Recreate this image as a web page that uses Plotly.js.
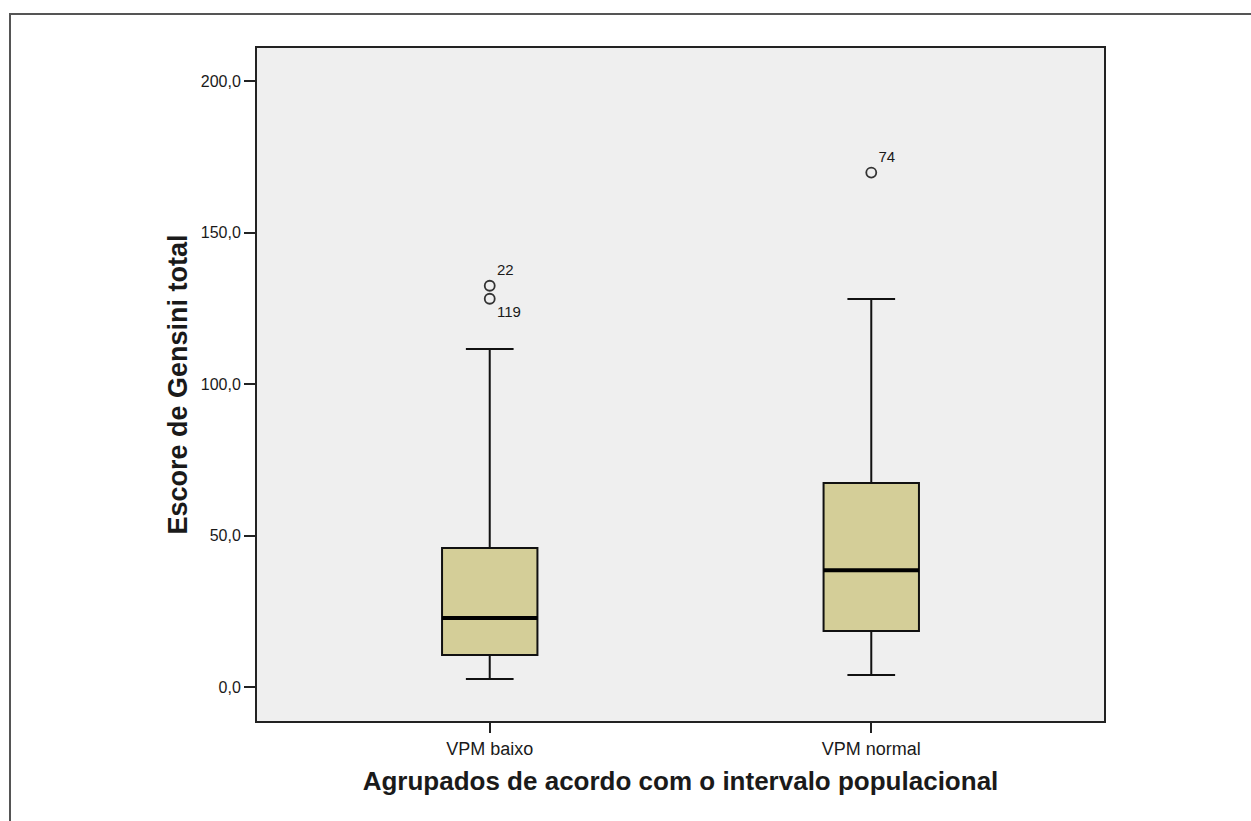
<!DOCTYPE html>
<html>
<head>
<meta charset="utf-8">
<script src="https://cdn.plot.ly/plotly-3.0.1.min.js"></script>
<style>
  html, body { margin: 0; padding: 0; background: #ffffff; overflow: hidden; }
  #chart { width: 1251px; height: 821px; }
  #frame { position: absolute; left: 9px; top: 13px; width: 1400px; height: 1000px;
           border-left: 2px solid #555; border-top: 2px solid #555; pointer-events: none; }
</style>
</head>
<body>
<div id="chart"></div>
<div id="frame"></div>
<script>
const categories = ['VPM baixo', 'VPM normal'];
const q1 = [10.7, 18.6];
const median = [22.9, 38.7];
const q3 = [46.0, 67.4];
const lowerfence = [2.8, 4.1];
const upperfence = [111.6, 128.1];

const outlierGroup = [0, 0, 1];
const outlierValues = [132.5, 128.2, 169.8];
const outlierIds = ['22', '119', '74'];
const outlierLabelPos = ['top right', 'bottom right', 'top right'];

const yTicks = [0, 50, 100, 150, 200];

const boxWidth = 0.25;
const fill = 'rgb(212,206,152)';

const traces = [];
categories.forEach((c, i) => {
  traces.push({
    type: 'box',
    x: [i],
    q1: [q1[i]], median: [median[i]], q3: [q3[i]],
    lowerfence: [lowerfence[i]], upperfence: [upperfence[i]],
    width: boxWidth,
    whiskerwidth: 0.5,
    fillcolor: fill,
    line: { color: '#111', width: 2 },
    boxpoints: false,
    hoverinfo: 'skip',
    showlegend: false
  });
  traces.push({
    type: 'scatter', mode: 'lines',
    x: [i - boxWidth / 2, i + boxWidth / 2],
    y: [median[i], median[i]],
    line: { color: '#000', width: 4 },
    hoverinfo: 'skip', showlegend: false
  });
});

traces.push({
  type: 'scatter', mode: 'markers+text',
  x: outlierGroup, y: outlierValues,
  text: outlierIds,
  textposition: outlierLabelPos,
  textfont: { family: 'Liberation Sans, Arial, sans-serif', size: 15, color: '#1a1a1a' },
  marker: { symbol: 'circle-open', size: 10, color: '#333', line: { width: 1.8, color: '#333' } },
  hoverinfo: 'skip', showlegend: false, cliponaxis: false
});

const layout = {
  width: 1251, height: 821,
  margin: { l: 257, r: 147, t: 48, b: 100 },
  paper_bgcolor: 'rgba(0,0,0,0)',
  plot_bgcolor: '#efefef',
  separators: ',.',
  showlegend: false,
  font: { family: 'Liberation Sans, Arial, sans-serif', color: '#1a1a1a' },
  xaxis: {
    range: [-0.61, 1.61],
    tickvals: [0, 1],
    ticktext: categories,
    tickfont: { size: 18, color: '#1a1a1a' },
    ticks: 'outside', ticklen: 10, tickwidth: 2, tickcolor: '#222',
    showline: true, mirror: true, linecolor: '#222', linewidth: 2,
    showgrid: false, zeroline: false,
    title: { text: '<b>Agrupados de acordo com o intervalo populacional</b>',
             font: { size: 26, color: '#1a1a1a' }, standoff: 14 }
  },
  yaxis: {
    range: [-11.05, 210.9],
    tickvals: yTicks,
    tickformat: '.1f',
    tickfont: { size: 16, color: '#1a1a1a' },
    ticks: 'outside', ticklen: 11, tickwidth: 2, tickcolor: '#222',
    showline: true, mirror: true, linecolor: '#222', linewidth: 2,
    showgrid: false, zeroline: false,
    title: { text: '<b>Escore de Gensini total</b>',
             font: { size: 27, color: '#1a1a1a' }, standoff: 5 }
  }
};

Plotly.newPlot('chart', traces, layout, { displayModeBar: false, staticPlot: true });
</script>
</body>
</html>
